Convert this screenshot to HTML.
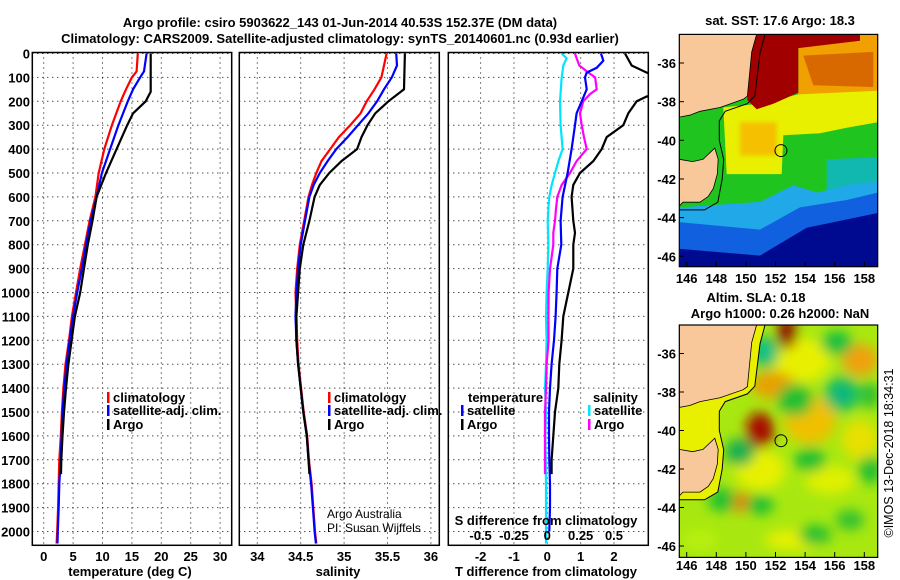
<!DOCTYPE html>
<html><head><meta charset="utf-8"><style>
html,body{margin:0;padding:0;background:#fff;}
svg{display:block;font-family:"Liberation Sans",sans-serif;}
.b{font-weight:bold;font-size:13px;}
</style></head><body>
<svg id="fig" width="900" height="580" viewBox="0 0 900 580" xmlns="http://www.w3.org/2000/svg">
<defs>
<clipPath id="c1"><rect x="32.3" y="52.5" width="199.4" height="492.8"/></clipPath>
<clipPath id="c2"><rect x="239.3" y="52.5" width="200" height="492.8"/></clipPath>
<clipPath id="c3"><rect x="448.3" y="52.5" width="200" height="492.8"/></clipPath>
<clipPath id="cm1"><rect x="679.3" y="34.4" width="198.4" height="232.3"/></clipPath>
<clipPath id="cm2"><rect x="679.3" y="325" width="198.4" height="232.4"/></clipPath>
<filter id="bl" x="-20%" y="-20%" width="140%" height="140%"><feGaussianBlur stdDeviation="6"/></filter>
<filter id="bl2"><feGaussianBlur stdDeviation="2"/></filter>
</defs>
<text class="b" x="340" y="27" text-anchor="middle" font-size="14">Argo profile: csiro 5903622_143 01-Jun-2014 40.53S 152.37E (DM data)</text>
<text class="b" x="340" y="43" text-anchor="middle" font-size="14">Climatology: CARS2009. Satellite-adjusted climatology: synTS_20140601.nc (0.93d earlier)</text>
<g id="maps"></g>
<g id="plots"></g>
</svg>
<script>
// ---- Profile data ----
const tDepth = [0,75,100,150,200,300,400,500,600,700,800,900,1000,1100,1200,1300,1400,1500,1600,1700,1800,1900,2000,2050];
const tClim = [16.0,15.8,15.0,14.0,13.1,11.6,10.3,9.35,8.8,7.8,7.0,6.2,5.5,4.8,4.3,3.7,3.35,3.1,2.9,2.65,2.55,2.45,2.3,2.2];
const tSat = [17.5,17.05,16.4,15.2,14.3,12.7,11.3,9.9,9.0,8.0,7.2,6.5,5.7,5.0,4.4,3.9,3.5,3.2,3.05,2.9,2.65,2.55,2.4,2.35];
const argoDepth = [0,160,200,250,300,400,500,600,700,800,900,1000,1100,1200,1300,1400,1500,1600,1700,1760];
const tArgo = [18.2,18.2,17.35,15.2,14.2,12.4,10.6,9.0,8.3,7.5,6.85,6.2,5.3,4.75,4.2,3.8,3.45,3.2,3.0,2.95];
const sDepth = [0,50,100,150,200,250,300,350,400,450,500,550,600,700,800,900,1000,1100,1200,1300,1400,1500,1600,1700,1800,1900,2000,2050];
const sClim = [35.49,35.46,35.43,35.35,35.26,35.19,35.07,34.94,34.84,34.74,34.68,34.63,34.59,34.54,34.49,34.46,34.44,34.45,34.46,34.475,34.505,34.535,34.575,34.595,34.625,34.645,34.665,34.68];
const sSat = [35.60,35.61,35.55,35.46,35.38,35.28,35.16,35.04,34.91,34.81,34.72,34.65,34.60,34.55,34.50,34.47,34.45,34.44,34.45,34.47,34.50,34.53,34.57,34.59,34.62,34.64,34.66,34.675];
const argoSDepth = [0,150,200,250,300,350,400,450,500,550,600,650,700,800,900,1000,1100,1200,1300,1400,1500,1600,1700,1760];
const sArgo = [35.70,35.69,35.51,35.36,35.27,35.20,35.15,34.97,34.83,34.72,34.66,34.63,34.60,34.53,34.49,34.47,34.45,34.45,34.47,34.50,34.53,34.57,34.59,34.60];
const dDepth = [0,30,60,80,100,150,200,250,300,350,400,500,600,700,800,900,1000,1100,1200,1300,1400,1500,1600,1700,1800,1900,2000];
const dTSat = [1.61,1.68,1.48,1.18,1.13,1.18,1.03,0.88,0.83,0.78,0.73,0.61,0.46,0.40,0.42,0.30,0.28,0.25,0.20,0.13,0.08,0.05,0.05,0.06,0.08,0.08,0.06];
const dTArgoDepth = [0,50,80,100,170,180,200,250,300,350,400,450,500,550,600,700,750,800,900,1000,1100,1200,1300,1400,1500,1600,1700,1760];
const dTArgo = [2.33,2.53,2.98,3.5,3.5,2.98,2.68,2.43,2.28,1.78,1.63,1.38,0.98,0.78,0.73,0.78,0.83,0.78,0.78,0.63,0.48,0.43,0.36,0.33,0.23,0.18,0.13,0.13];
const dSSatDepth = [0,20,50,100,200,300,400,450,500,550,600,650,700,800,900,1000,1100,1200,1300,1400,1500,1600,1700,1800,1900,2000,2050];
const dSSat = [0.108,0.145,0.12,0.108,0.095,0.1,0.115,0.083,0.058,0.033,0.015,0.008,0.003,0.008,0.003,-0.005,-0.01,-0.005,-0.01,-0.017,-0.01,-0.015,-0.012,-0.01,-0.01,-0.01,-0.01];
const dSArgoDepth = [0,20,50,80,100,150,170,200,250,300,350,400,450,500,550,600,650,700,750,800,850,900,1000,1100,1200,1300,1400,1500,1600,1700,1760];
const dSArgo = [0.208,0.22,0.24,0.308,0.358,0.37,0.32,0.27,0.245,0.258,0.275,0.295,0.22,0.17,0.108,0.075,0.065,0.058,0.045,0.045,0.033,0.02,0.01,0.008,0.01,-0.005,-0.01,-0.017,-0.017,-0.017,-0.017];
const depthTicks = [0,100,200,300,400,500,600,700,800,900,1000,1100,1200,1300,1400,1500,1600,1700,1800,1900,2000];
const tTicks = [0,5,10,15,20,25,30];
const sTicks = [34,34.5,35,35.5,36];
const sTickLabels = ["34","34.5","35","35.5","36"];
const dTTicks = [-2,-1,0,1,2];
const dSTicks = [-0.5,-0.25,0,0.25,0.5];
const dSTickLabels = ["-0.5","-0.25","0","0.25","0.5"];
const lonTicks = [146,148,150,152,154,156,158];
const latTicks = [-36,-38,-40,-42,-44,-46];

const NS = "http://www.w3.org/2000/svg";
const plots = document.getElementById('plots');
const maps = document.getElementById('maps');
function mk(tag, attrs, parent){ const e=document.createElementNS(NS,tag); for(const k in attrs) e.setAttribute(k,attrs[k]); (parent||plots).appendChild(e); return e; }
function txt(x,y,s,attrs,parent){ const e=mk('text',Object.assign({x:x,y:y},attrs||{}),parent); e.textContent=s; return e; }

const yD = d => 53.5 + d*0.239;
const xT = t => 43.7 + t*5.88;
const xS = s => 257.3 + (s-34)*86.8;
const xDT = v => 547.3 + v*33.35;
const xDS = v => 547.3 + v*133.4;
const PT = 52.5, PB = 545.3;

function panel(L, R, name){
  const g = mk('g',{});
  
  
  depthTicks.forEach(d=>{
    const l = mk('line',{x1:L,x2:R,y1:yD(d),y2:yD(d),stroke:'#000','stroke-width':1,'stroke-dasharray':'1 4'},g);
    
    
  });
  return g;
}
function vgrid(g, xs){
  xs.forEach(x=>{
    const l = mk('line',{x1:x,x2:x,y1:PT,y2:PB,stroke:'#000','stroke-width':1,'stroke-dasharray':'1 4'},g);
    
    
  });
}
function frame(L,R,name){
  const r = mk('rect',{x:L,y:PT,width:R-L,height:PB-PT,fill:'none',stroke:'#000','stroke-width':1.5});
  
  
}
function line(xs, ds, xf, color, clip, name){
  const pts = xs.map((v,i)=> xf(v).toFixed(1)+','+yD(ds[i]).toFixed(1)).join(' ');
  const p = mk('polyline',{points:pts,fill:'none',stroke:color,'stroke-width':2.2,'clip-path':'url(#'+clip+')'});
  
  
}
function legend(x,y,color,label,name){
  const r = mk('rect',{x:x,y:y-10,width:2.5,height:11,fill:color});
  
  
  const t = txt(x+6,y,label,{class:'b','font-size':12.5});
  
  
}

const g1 = panel(32.3,231.7,'temperature-panel');
vgrid(g1, tTicks.map(xT));
line(tClim,tDepth,xT,'#ff0000','c1','temperature-climatology-line');
line(tSat,tDepth,xT,'#0000ff','c1','temperature-satellite-line');
line(tArgo,argoDepth,xT,'#000000','c1','temperature-argo-line');
frame(32.3,231.7,'temperature-frame');
depthTicks.forEach(d=>{ const t=txt(30,yD(d)+5,String(d),{class:'b','text-anchor':'end'});   });
tTicks.forEach(v=>{ const t=txt(xT(v),561,String(v),{class:'b','text-anchor':'middle'});   });
{ const t=txt(130,576,'temperature (deg C)',{class:'b','text-anchor':'middle'});   }
legend(107,402,'#ff0000','climatology','legend-climatology');
legend(107,415,'#0000ff','satellite-adj. clim.','legend-satellite-adj');
legend(107,429,'#000000','Argo','legend-argo');

const g2 = panel(239.3,439.3,'salinity-panel');
vgrid(g2, sTicks.map(xS));
line(sClim,sDepth,xS,'#ff0000','c2','salinity-climatology-line');
line(sSat,sDepth,xS,'#0000ff','c2','salinity-satellite-line');
line(sArgo,argoSDepth,xS,'#000000','c2','salinity-argo-line');
frame(239.3,439.3,'salinity-frame');
sTicks.forEach((v,i)=>{ const t=txt(xS(v),561,sTickLabels[i],{class:'b','text-anchor':'middle'});   });
{ const t=txt(338,576,'salinity',{class:'b','text-anchor':'middle'});   }
legend(328,402,'#ff0000','climatology','legend2-climatology');
legend(328,415,'#0000ff','satellite-adj. clim.','legend2-satellite-adj');
legend(328,429,'#000000','Argo','legend2-argo');
{ const t=txt(327,518,'Argo Australia',{'font-size':12});   }
{ const t=txt(327,532,'PI: Susan Wijffels',{'font-size':12});   }

const g3 = panel(448.3,648.3,'difference-panel');
vgrid(g3, dTTicks.map(xDT));
line(dSSat,dSSatDepth,xDS,'#00e5ff','c3','salinity-satellite-diff-line');
line(dSArgo,dSArgoDepth,xDS,'#ff00ff','c3','salinity-argo-diff-line');
line(dTSat,dDepth,xDT,'#0000ff','c3','temperature-satellite-diff-line');
line(dTArgo,dTArgoDepth,xDT,'#000000','c3','temperature-argo-diff-line');
frame(448.3,648.3,'difference-frame');
dTTicks.forEach(v=>{ const t=txt(xDT(v),561,String(v),{class:'b','text-anchor':'middle'});   });
dSTicks.forEach((v,i)=>{ const t=txt(xDS(v),540,dSTickLabels[i],{class:'b','text-anchor':'middle'});   });
{ const t=txt(546,525,'S difference from climatology',{class:'b','text-anchor':'middle'});   }
{ const t=txt(546,576,'T difference from climatology',{class:'b','text-anchor':'middle'});   }
{ const t=txt(468,402,'temperature',{class:'b','font-size':12.5});   }
legend(461,415,'#0000ff','satellite','legend3-t-satellite');
legend(461,429,'#000000','Argo','legend3-t-argo');
{ const t=txt(593,402,'salinity',{class:'b','font-size':12.5});   }
legend(588,415,'#00e5ff','satellite','legend3-s-satellite');
legend(588,429,'#ff00ff','Argo','legend3-s-argo');

// ---- Maps ----
const lonX = lon => 686.7 + (lon-146)*14.8;
const lat1Y = lat => 63 + (-36-lat)*19.33;
const lat2Y = lat => 353.5 + (-36-lat)*19.25;
const zp = (zx,zy) => (660+zx/3).toFixed(1)+','+(zy/2.7).toFixed(1);
function poly(zpts, fill, parent, name, extra){
  const pts=[]; for(let i=0;i<zpts.length;i+=2) pts.push(zp(zpts[i],zpts[i+1]));
  const p = mk('polygon',Object.assign({points:pts.join(' '),fill:fill},extra||{}),parent);
  
  
  return p;
}
const mainland = [[145.5,-34.5],[150.73,-34.5],[150.39,-35.43],[150.1,-37.72],[149.82,-37.88],[148.25,-38.3],[146.9,-38.5],[146.2,-38.7],[145.5,-38.8]];
const tasmania = [[145.5,-40.98],[146.4,-41.1],[147.1,-40.98],[147.9,-40.4],[148.13,-40.98],[148.07,-41.75],[147.8,-42.5],[147.46,-42.9],[146.9,-43.2],[145.75,-43.2],[145.5,-43.4]];
const shelf1 = [[151.3,-34.5],[150.95,-35.5],[150.6,-37.7],[150.1,-38.1],[148.6,-38.5],[148.2,-39.0],[148.2,-40.0],[148.5,-41.0],[148.4,-42.0],[148.1,-43.2],[147.2,-43.6],[145.5,-43.6]];

function landLayer(parent, latY, tag, shelfFill){
  const pm = mainland.map(p=>lonX(p[0]).toFixed(1)+','+latY(p[1]).toFixed(1)).join(' ');
  const pt = tasmania.map(p=>lonX(p[0]).toFixed(1)+','+latY(p[1]).toFixed(1)).join(' ');
  const ps = shelf1.map(p=>lonX(p[0]).toFixed(1)+','+latY(p[1]).toFixed(1)).join(' ');
  if (shelfFill) {
    const sf = mk('polygon',{points:ps+' 679,'+latY(-34.5).toFixed(1),fill:shelfFill},parent);
    
    
  }
  const s = mk('polyline',{points:ps,fill:'none',stroke:'#000','stroke-width':1},parent);
  
  
  const a = mk('polygon',{points:pm,fill:'#f9c89a',stroke:'#000','stroke-width':0.8},parent);
  
  
  const b = mk('polygon',{points:pt,fill:'#f9c89a',stroke:'#000','stroke-width':0.8},parent);
  
  
}

const m1 = mk('g',{'clip-path':'url(#cm1)'},maps);


mk('rect',{x:679,y:34,width:200,height:234,fill:'#1fc41f'},m1);
poly([415,93,653,93,653,250,560,260,415,260],'#f0a000',m1,'sst-orange-region');
poly([430,150,640,140,640,235,460,230],'#d86800',m1,'sst-darkorange-region');
poly([190,290,300,280,415,255,653,245,653,330,560,345,480,360,370,365,365,470,200,470,195,380],'#e8f000',m1,'sst-yellow-region');
poly([240,330,350,330,350,420,240,420],'#f5c000',m1,'sst-warm-core',{filter:'url(#bl2)'});
poly([265,93,600,93,600,110,415,130,415,250,340,280,290,295,262,270],'#a00000',m1,'sst-dark-red-region');
poly([500,430,653,425,653,520,500,520],'#10b8b0',m1,'sst-teal-region');
poly([60,560,300,545,400,500,470,520,560,500,653,490,653,720,60,720],'#20a8e8',m1,'sst-cyan-region');
poly([60,600,300,620,420,560,560,540,653,520,653,720,60,720],'#1060e0',m1,'sst-blue-region');
poly([60,672,300,690,440,615,653,575,653,720,60,720],'#000a90',m1,'sst-darkblue-region');
landLayer(m1, lat1Y, 'sst-map', null);
{ const c=mk('circle',{cx:lonX(152.37),cy:lat1Y(-40.53),r:6,fill:'none',stroke:'#000','stroke-width':1},maps);   }
{ const r=mk('rect',{x:679.3,y:34.4,width:198.4,height:232.3,fill:'none',stroke:'#000','stroke-width':1.2},maps);   }

const m2 = mk('g',{'clip-path':'url(#cm2)'},maps);


mk('rect',{x:679,y:324,width:200,height:234,fill:'#a8e810'},m2);
const blobs = mk('g',{filter:'url(#bl)'},m2);
const blobList = [
 [800,360,30,22,'#e8f000'],[760,470,25,20,'#e8f000'],[810,420,26,24,'#f0c000'],
 [860,360,18,16,'#f0a010'],[773,385,22,14,'#e8a000'],[760,430,14,18,'#a81000'],[787,333,10,16,'#901000'],
 [740,502,12,10,'#e88000'],[860,440,18,20,'#e8e000'],[830,480,25,14,'#e0f000'],[795,540,30,10,'#e8f000'],
 [765,352,14,16,'#18c060'],[765,352,6,8,'#10c0a0'],[837,343,16,12,'#18c040'],[842,394,18,18,'#18c060'],[842,394,7,7,'#10b090'],
 [740,452,15,14,'#18b050'],[795,400,18,16,'#20c030'],[722,500,14,12,'#20c030'],[815,535,16,10,'#20c030'],
 [870,470,12,14,'#20c030'],[810,460,16,12,'#20c030'],[870,395,10,14,'#30c030'],[760,505,14,10,'#20c030'],
 [700,540,18,10,'#b8f010'],[850,520,14,10,'#30c030']
];
blobList.forEach(b=>{ const e=mk('ellipse',{cx:b[0],cy:b[1],rx:b[2],ry:b[3],fill:b[4]},blobs);   });
landLayer(m2, lat2Y, 'sla-map', '#e8f000');
{ const c=mk('circle',{cx:lonX(152.37),cy:lat2Y(-40.53),r:6,fill:'none',stroke:'#000','stroke-width':1},maps);   }
{ const r=mk('rect',{x:679.3,y:325,width:198.4,height:232.4,fill:'none',stroke:'#000','stroke-width':1.2},maps);   }

lonTicks.forEach(v=>{
  const a=txt(lonX(v),283,String(v),{class:'b','text-anchor':'middle'},maps);  
  const b=txt(lonX(v),570,String(v),{class:'b','text-anchor':'middle'},maps);  
  mk('line',{x1:lonX(v),x2:lonX(v),y1:262,y2:266.7,stroke:'#000'},maps);
  mk('line',{x1:lonX(v),x2:lonX(v),y1:552,y2:557.4,stroke:'#000'},maps);
});
latTicks.forEach(v=>{
  const a=txt(676,lat1Y(v)+5,String(v),{class:'b','text-anchor':'end'},maps);  
  const b=txt(676,lat2Y(v)+5,String(v),{class:'b','text-anchor':'end'},maps);  
  mk('line',{x1:679.3,x2:684,y1:lat1Y(v),y2:lat1Y(v),stroke:'#000'},maps);
  mk('line',{x1:679.3,x2:684,y1:lat2Y(v),y2:lat2Y(v),stroke:'#000'},maps);
});
{ const t=txt(780,25,'sat. SST: 17.6 Argo: 18.3',{class:'b','text-anchor':'middle'},maps);   }
{ const t=txt(756,302,'Altim. SLA: 0.18',{class:'b','text-anchor':'middle'},maps);   }
{ const t=txt(780,318,'Argo h1000: 0.26 h2000: NaN',{class:'b','text-anchor':'middle'},maps);   }
{ const t=txt(0,0,'©IMOS 13-Dec-2018 18:34:31',{'font-size':12.5,'text-anchor':'middle',transform:'translate(893,453) rotate(-90)'},maps);   }
</script>
</body></html>
